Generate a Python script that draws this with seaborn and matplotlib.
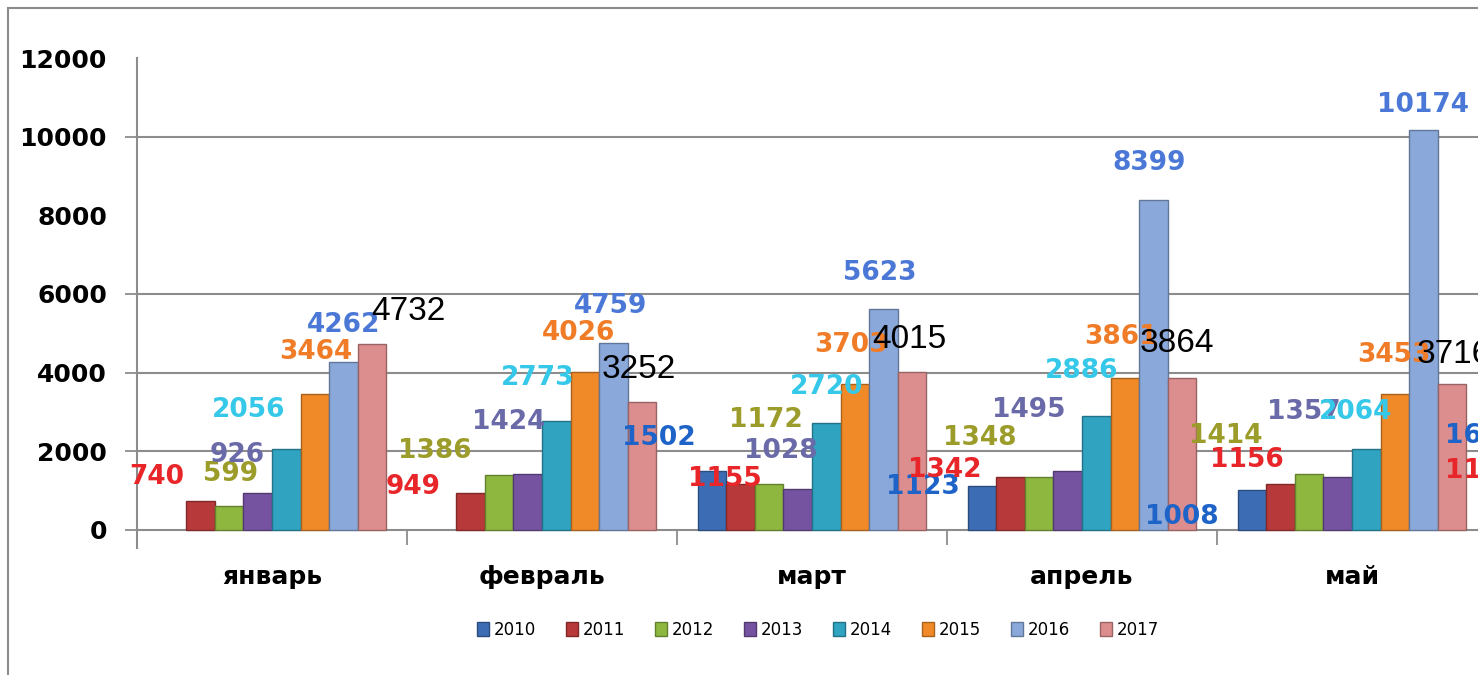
import numpy as np
import pandas as pd
import matplotlib
matplotlib.use("Agg")
import matplotlib.pyplot as plt
import matplotlib.colors as mcolors
from matplotlib.patches import Patch, Rectangle
import seaborn as sns

# data (june is cut off at the right edge, only two labels show)
months = ["январь", "февраль", "март", "апрель", "май", "июнь"]
years = ["2010", "2011", "2012", "2013", "2014", "2015", "2016", "2017"]
nan = np.nan
v2010 = [nan, nan, 1502, 1123, 1008, 1650]
v2011 = [740, 949, 1155, 1342, 1156, 1150]
v2012 = [599, 1386, 1172, 1348, 1414, nan]
v2013 = [926, 1424, 1028, 1495, 1357, nan]
v2014 = [2056, 2773, 2720, 2886, 2064, nan]
v2015 = [3464, 4026, 3703, 3861, 3453, nan]
v2016 = [4262, 4759, 5623, 8399, 10174, nan]
v2017 = [4732, 3252, 4015, 3864, 3716, nan]
series = [v2010, v2011, v2012, v2013, v2014, v2015, v2016, v2017]

rows = []
for year, vals in zip(years, series):
    for month, v in zip(months, vals):
        rows.append((month, year, v))
df = pd.DataFrame(rows, columns=["month", "year", "count"]).dropna()

# styling
bar_colors = ["#3C6DB4", "#B8393A", "#8DB73F", "#7553A0", "#2FA3C0", "#F08A28", "#8AA8DA", "#DC8E8E"]
label_colors = ["#1E64C8", "#E8262A", "#9C9C2A", "#6A6AA8", "#36C8E8", "#F07C28", "#4B78D6", "black"]
grid_color = "#8c8c8c"
grid_lines = [2000, 4000, 6000, 10000]

# label placement (pixel offsets from the top of each bar), as they were moved by hand
label_offsets = {
    "2010": [None, None, (-53, 35), (-59, 1), (-70, -25), (-40, 31)],
    "2011": [(-44, 26), (-58, 8), (-16, 7), (-66, 9), (-34, 26), (-69, 16)],
    "2012": [(1, 34), (-64, 26), (-3, 66), (-59, 41), (-83, 40), None],
    "2013": [(-21, 40), (-19, 54), (-17, 40), (-39, 63), (-34, 67), None],
    "2014": [(-38, 41), (-19, 45), (0, 38), (-15, 47), (-11, 39), None],
    "2015": [(1, 44), (-6, 41), (-4, 41), (-4, 43), (-1, 41), None],
    "2016": [(0, 39), (-3, 39), (-4, 38), (-4, 39), (0, 27), None],
    "2017": [(37, 34), (-3, 35), (-2, 35), (-5, 36), (2, 31), None],
}

sns.set_theme(style="white")
plt.rcParams["font.family"] = ["DejaVu Sans"]
plt.rcParams["text.color"] = "black"
plt.rcParams["xtick.color"] = "black"
plt.rcParams["ytick.color"] = "black"

W, H = 1478, 675
fig = plt.figure(figsize=(W / 100, H / 100), dpi=100)
ax = fig.add_axes([137 / W, (H - 548) / H, 1620 / W, 490 / H])

sns.barplot(data=df, x="month", y="count", hue="year", order=months, hue_order=years,
            palette=dict(zip(years, bar_colors)), width=0.845, saturation=1,
            errorbar=None, legend=False, ax=ax, zorder=3)

for cont, c in zip(ax.containers, bar_colors):
    dark = np.array(mcolors.to_rgb(c)) * 0.7
    for bar in cont:
        bar.set_edgecolor(dark)
        bar.set_linewidth(1.0)

ax.set_xlim(-0.5, len(months) - 0.5)
ax.set_ylim(-460, 12000)

# spines first: moving a spine resets the ticks
for s in ["top", "right"]:
    ax.spines[s].set_visible(False)
ax.spines["left"].set_color(grid_color)
ax.spines["left"].set_linewidth(1.5)
ax.spines["bottom"].set_position(("data", 0))
ax.spines["bottom"].set_color(grid_color)
ax.spines["bottom"].set_linewidth(1.5)

for g in grid_lines:
    ax.axhline(g, color=grid_color, lw=1.5, zorder=1)

# axes, ticks
yticks = list(range(0, 12001, 2000))
ax.set_yticks(yticks)
ax.set_yticklabels([str(t) for t in yticks], fontsize=18, fontweight="bold", color="black")
ax.tick_params(axis="y", left=True, length=8.6, width=1.3, color=grid_color, pad=13,
               direction="out", labelcolor="black")
for tick, val in zip(ax.yaxis.get_major_ticks(), yticks):
    if val != 0 and val not in grid_lines:
        tick.tick1line.set_visible(False)

ax.set_xticks(range(len(months)))
ax.set_xticklabels(months, fontsize=18, fontweight="bold", color="black")
ax.set_xticks(np.arange(0.5, len(months) - 0.5, 1), minor=True)
ax.tick_params(axis="x", which="major", bottom=True, length=0, pad=25, labelsize=18,
               labelcolor="black")
ax.tick_params(axis="x", which="minor", bottom=True, length=11, width=1.3, color=grid_color, direction="out")
for lbl in ax.get_xticklabels():
    lbl.set_fontweight("bold")

ax.set_xlabel("")
ax.set_ylabel("")

# value labels
for year, cont, lc in zip(years, ax.containers, label_colors):
    for bar in cont:
        h = bar.get_height()
        if np.isnan(h):
            continue
        xc = bar.get_x() + bar.get_width() / 2
        mi = int(round(xc))
        off = label_offsets[year][mi]
        if off is None:
            continue
        if year == "2017":
            kw = dict(fontsize=24, family="Liberation Sans", color=lc)
        else:
            kw = dict(fontsize=19, fontweight="bold", color=lc)
        ax.annotate(f"{h:.0f}", xy=(xc, h), xytext=(off[0], off[1] - 2),
                    textcoords="offset pixels", ha="center", va="center",
                    zorder=5, **kw)

# legend
handles = [Patch(facecolor=c, edgecolor=np.array(mcolors.to_rgb(c)) * 0.7) for c in bar_colors]
fig.legend(handles, years, loc="center", bbox_to_anchor=(818 / W, 45 / H), ncol=8,
           frameon=False, fontsize=12, handlelength=0.7, handleheight=0.9,
           handletextpad=0.3, columnspacing=1.8, labelcolor="black")

# outer frame of the chart area
fig.add_artist(Rectangle((8 / W, -0.05), 1.2, 1 - 8 / H + 0.05, transform=fig.transFigure,
                         fill=False, edgecolor=grid_color, lw=1.5))

fig.savefig("out.png", dpi=100)
